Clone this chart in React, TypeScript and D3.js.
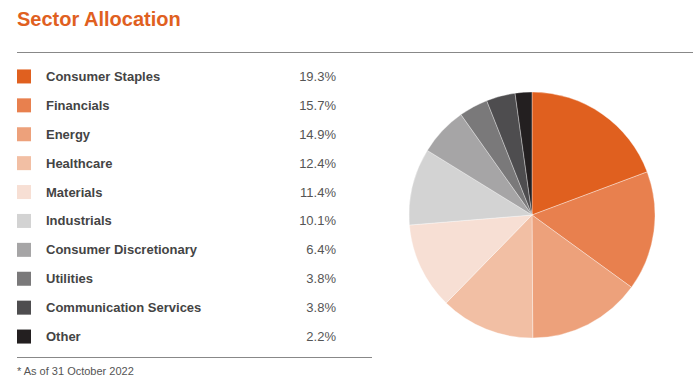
import React from "react";
import * as d3 from "d3";

const categories = [
  "Consumer Staples",
  "Financials",
  "Energy",
  "Healthcare",
  "Materials",
  "Industrials",
  "Consumer Discretionary",
  "Utilities",
  "Communication Services",
  "Other",
];
const values = [19.3, 15.7, 14.9, 12.4, 11.4, 10.1, 6.4, 3.8, 3.8, 2.2];
const colors = [
  "#E0601F",
  "#E8804E",
  "#EDA17B",
  "#F2BFA4",
  "#F7DFD4",
  "#D3D3D3",
  "#A6A5A6",
  "#7A797A",
  "#4E4D4F",
  "#231F20",
];
const title = "Sector Allocation";
const footnote = "* As of 31 October 2022";

export default function App() {
  const W = 693;
  const H = 391;
  const font = "Arial, 'Liberation Sans', sans-serif";
  const cx = 532;
  const cy = 215;
  const r = 123;
  const pie = d3.pie<number>().sort(null).value((d) => d)(values);
  const arc = d3.arc<d3.PieArcDatum<number>>().innerRadius(0).outerRadius(r);
  const rowY = d3
    .scaleBand<number>()
    .domain(d3.range(categories.length))
    .range([62, 351])
    .paddingInner(0);
  return (
    <svg
      width={W}
      height={H}
      style={{ position: "absolute", left: 0, top: 0, background: "#fff" }}
      fontFamily={font}
    >
      <text x={17} y={26} fill="#E0601F" fontSize={20} fontWeight="bold">
        {title}
      </text>
      <line x1={17} x2={693} y1={52.5} y2={52.5} stroke="#888" strokeWidth={1} />
      {categories.map((c, i) => {
        const y = (rowY(i) as number) + rowY.bandwidth() / 2;
        return (
          <g key={c}>
            <rect x={17} y={y - 7} width={14} height={14} fill={colors[i]} />
            <text x={46} y={y + 4.5} fontSize={13} fill="#444" fontWeight={600}>
              {c}
            </text>
            <text x={336} y={y + 4.5} fontSize={13} fill="#555" textAnchor="end">
              {values[i].toFixed(1)}%
            </text>
          </g>
        );
      })}
      <line x1={17} x2={372} y1={357.5} y2={357.5} stroke="#888" strokeWidth={1} />
      <text x={17} y={375} fontSize={11} fill="#555">
        {footnote}
      </text>
      <g transform={`translate(${cx},${cy})`}>
        {pie.map((p, i) => (
          <path key={i} d={arc(p) as string} fill={colors[i]} stroke="#fff" strokeWidth={0.35} />
        ))}
      </g>
    </svg>
  );
}
